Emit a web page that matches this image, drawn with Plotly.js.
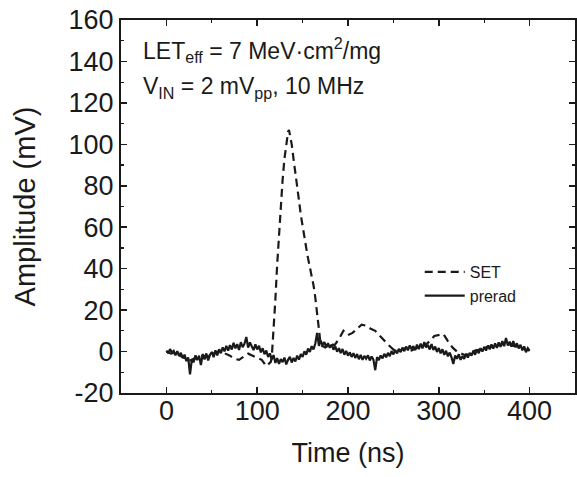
<!DOCTYPE html>
<html>
<head>
<meta charset="utf-8">
<script src="https://cdn.plot.ly/plotly-3.0.1.min.js"></script>
<style>html,body{margin:0;padding:0;background:#fff;}#chart{width:577px;height:477px;}</style>
</head>
<body>
<div id="chart"></div>
<script>
// Prerad trace: time 0..400 ns every 2 ns
const preradStart = 0;
const preradStep = 2;
const preradValues = [
 0.5,-0.8,1.2,-0.5,0.3,-1.8,0.2,-2.1,-0.6,-3.2,
 -1.5,-4.6,-2.8,-11.0,-3.9,-5.2,-1.8,-4.1,-2.0,-6.5,
 -1.2,-3.8,-0.9,-4.3,-1.6,-0.2,-2.7,0.6,-1.9,1.1,
 -0.8,2.0,0.1,2.7,0.4,3.1,1.0,4.2,1.5,3.6,
 0.8,4.5,2.1,3.8,7.0,1.9,4.4,2.2,0.7,3.5,
 1.0,2.8,-0.4,1.6,-1.3,0.5,-2.6,-0.9,-3.8,-1.7,
 -5.5,-3.2,-6.0,-3.6,-5.1,-2.9,-6.2,-4.0,-2.5,-5.3,
 -3.1,-4.8,-2.0,-3.9,-1.2,-2.6,0.1,-1.5,1.4,-0.2,
 2.6,1.0,3.9,9.0,2.8,5.2,3.0,4.6,2.1,4.0,
 1.8,3.4,0.9,2.5,-0.1,1.6,-0.7,1.2,-1.5,0.3,
 -2.0,-0.4,-2.6,-0.8,-3.1,-1.2,-3.7,-1.6,-4.0,-2.1,
 -3.4,-1.8,-4.3,-2.4,-3.9,-9.0,-2.7,-4.1,-1.9,-3.3,
 -1.1,-2.8,-0.6,-2.2,0.2,-1.4,0.8,-0.9,1.3,-0.3,
 1.9,0.2,2.4,0.6,3.0,1.1,2.6,0.7,3.3,1.2,
 3.8,1.5,4.6,2.0,3.2,1.0,3.6,0.8,2.4,-0.2,
 1.7,-0.9,1.1,-1.6,0.4,-2.3,-0.5,-2.8,-6.0,-1.9,
 -3.5,-1.3,-4.0,-2.2,-3.6,-1.0,-2.9,-0.6,-2.0,0.3,
 -1.5,1.0,-0.8,1.6,0.0,2.3,0.5,2.9,1.1,3.4,
 1.4,3.9,1.8,4.4,2.3,5.0,2.6,6.5,2.9,4.8,
 2.4,5.1,2.2,4.0,1.5,3.3,0.6,2.5,-0.3,1.6,
 0.4
];
const preradTime = preradValues.map((v, i) => preradStart + i * preradStep);

// SET trace
const setTime = [
 0,5,10,15,20,25,30,35,40,45,50,55,60,65,70,75,80,85,90,95,100,105,110,115,
 116,118,120,122,124,126,128,130,132,134,135,136,138,140,142,144,146,148,150,
 152,154,156,158,160,162,164,166,168,170,
 175,180,185,190,195,200,205,210,215,220,225,230,235,240,245,250,255,260,265,
 270,275,280,285,290,295,300,305,310,315,320,325,330,335,340,345,350,355,360,
 365,370,375,380,385,390,395,400
];
const setValues = [
 0,-1,-0.5,-2,-3,-4.5,-3.5,-3,-2,-2.5,-1,-0.5,0.5,-1,-2,-3.5,-4,-2.5,-1,-2,-3,-4,-7,-5,
 -3,9,25,42,57,70,83,93,101,106,107,105,100,93,87,80,73,66,60,
 55,50,45,41,37,32,26,18,8,3,
 2,4,3,6,10,8,9,11,13,12.5,11,10,7.5,5,3,1,0,1,2,
 0.5,1.5,2.5,3,5,7.5,8,8.5,5,2,0,-1,-2,-0.5,0.5,1,1.5,2.5,2,
 3,3.5,4,3,2.5,2,1,0.5
];

// Axis ticks
const xTickVals = [0, 100, 200, 300, 400];
const xTickText = ["0", "100", "200", "300", "400"];
const yTickVals = [-20, 0, 20, 40, 60, 80, 100, 120, 140, 160];
const yTickText = ["-20", "0", "20", "40", "60", "80", "100", "120", "140", "160"];

const fontFamily = "Arial, 'Liberation Sans', Helvetica, sans-serif";
const ink = "#1a1a1a";

const traces = [
  {
    x: setTime, y: setValues, type: "scatter", mode: "lines", name: "SET",
    line: {color: ink, width: 2.2, dash: "8px,5px"}
  },
  {
    x: preradTime, y: preradValues, type: "scatter", mode: "lines", name: "prerad",
    line: {color: ink, width: 2.2}
  }
];

const layout = {
  width: 577, height: 477,
  margin: {l: 121, r: 2, t: 20, b: 84},
  paper_bgcolor: "#fff", plot_bgcolor: "#fff",
  font: {family: fontFamily, color: ink},
  showlegend: true,
  legend: {
    x: 0.658, y: 0.37, xanchor: "left", yanchor: "top",
    bgcolor: "rgba(0,0,0,0)", borderwidth: 0,
    font: {size: 16, family: fontFamily, color: ink},
    itemwidth: 40, tracegroupgap: 0
  },
  xaxis: {
    range: [-50, 450], tickmode: "array", tickvals: xTickVals, ticktext: xTickText,
    ticks: "inside", ticklen: 6, tickwidth: 1.5, tickcolor: ink,
    minor: {tickmode: "linear", tick0: 0, dtick: 50, ticks: "inside", ticklen: 3, tickwidth: 1.2, tickcolor: ink},
    showline: true, linecolor: ink, linewidth: 2, mirror: "ticks",
    showgrid: false, zeroline: false, ticklabelstandoff: -7,
    tickfont: {size: 27, family: fontFamily, color: ink},
    title: {text: "Time (ns)", font: {size: 27, family: fontFamily, color: ink}, standoff: 18}
  },
  yaxis: {
    range: [-20, 160], tickmode: "array", tickvals: yTickVals, ticktext: yTickText,
    ticks: "inside", ticklen: 6, tickwidth: 1.5, tickcolor: ink,
    minor: {tickmode: "linear", tick0: 0, dtick: 10, ticks: "inside", ticklen: 3, tickwidth: 1.2, tickcolor: ink},
    showline: true, linecolor: ink, linewidth: 2, mirror: "ticks",
    showgrid: false, zeroline: false,
    tickfont: {size: 27, family: fontFamily, color: ink},
    title: {text: "Amplitude (mV)", font: {size: 29, family: fontFamily, color: ink}, standoff: 24}
  },
  annotations: [
    {
      xref: "paper", yref: "paper", x: 0.044, y: 0.92, xanchor: "left", yanchor: "middle",
      showarrow: false, align: "left",
      text: "LET<sub>eff</sub> = 7 MeV·cm<sup>2</sup>/mg",
      font: {size: 23, family: fontFamily, color: ink}
    },
    {
      xref: "paper", yref: "paper", x: 0.044, y: 0.82, xanchor: "left", yanchor: "middle",
      showarrow: false, align: "left",
      text: "V<sub>IN</sub> = 2 mV<sub>pp</sub>, 10 MHz",
      font: {size: 23, family: fontFamily, color: ink}
    }
  ]
};

Plotly.newPlot("chart", traces, layout, {displayModeBar: false, staticPlot: true});
</script>
</body>
</html>
